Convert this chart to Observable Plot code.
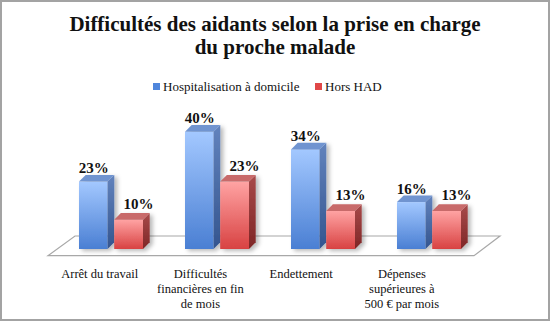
<!DOCTYPE html>
<html>
<head>
<meta charset="utf-8">
<script src="https://cdn.jsdelivr.net/npm/d3@7"></script>
<script src="https://cdn.jsdelivr.net/npm/@observablehq/plot@0.6"></script>
<style>
  body { margin: 0; background: #fff; }
  #wrap { position: relative; width: 550px; height: 321px; overflow: hidden; font-family: "Liberation Serif", "Times New Roman", serif; color: #111; }
  #border { position: absolute; left: 0; top: 0; width: 550px; height: 321px; box-sizing: border-box; border: 2px solid #a3a3a3; pointer-events: none; z-index: 5; }
  #title { position: absolute; left: 0; top: 13px; width: 550px; text-align: center; font-weight: bold; font-size: 21px; line-height: 23px; }
  #legend { position: absolute; left: 0; top: 79px; width: 550px; font-size: 13px; line-height: 15px; }
  .lg { position: absolute; top: 0; white-space: nowrap; font-family: "Liberation Serif", "Times New Roman", serif; }
  .sw { display: inline-block; width: 7px; height: 7px; margin-right: 3px; vertical-align: 1px; }
  #chart { position: absolute; left: 0; top: 100px; }
</style>
</head>
<body>
<div id="wrap">
  <div id="title">Difficultés des aidants selon la prise en charge<br>du proche malade</div>
  <div id="legend"></div>
  <div id="chart"></div>
  <div id="border"></div>
</div>
<script>
const categories = ["Arrêt du travail", "Difficultés\nfinancières en fin\nde mois", "Endettement", "Dépenses\nsupérieures à\n500 € par mois"];
const seriesNames = ["Hospitalisation à domicile", "Hors HAD"];
const hadValues = [23, 40, 34, 16];
const horsValues = [10, 23, 13, 13];
const valueLabels = (v) => v + "%";

const rows = categories.flatMap((c, i) => [
  {cat: c, series: seriesNames[0], value: hadValues[i]},
  {cat: c, series: seriesNames[1], value: horsValues[i]}
]);

const colors = {
  [seriesNames[0]]: {front: "url(#gBlue)", side: "url(#gBlueSide)", top: "#7094d0", sw: "#4f86dc"},
  [seriesNames[1]]: {front: "url(#gRed)", side: "url(#gRedSide)", top: "#c86a6a", sw: "#e04848"}
};

// legend
const legend = document.getElementById("legend");
const lgX = [153, 315];
seriesNames.forEach((s, i) => {
  const d = document.createElement("div");
  d.className = "lg";
  d.style.left = lgX[i] + "px";
  d.innerHTML = `<span class="sw" style="background:${colors[s].sw}"></span>${s}`;
  legend.appendChild(d);
});

const D = 6.7; // 3D depth

function bar3d(series) {
  return (index, scales, values, dims, ctx, next) => {
    const g = next(index, scales, values, dims, ctx);
    const ns = "http://www.w3.org/2000/svg";
    g.setAttribute("filter", "url(#shadow)");
    for (const r of Array.from(g.querySelectorAll("rect"))) {
      const x = +r.getAttribute("x"), y = +r.getAttribute("y");
      const w = +r.getAttribute("width"), h = +r.getAttribute("height");
      const side = document.createElementNS(ns, "polygon");
      side.setAttribute("points", `${x+w},${y} ${x+w+D},${y-D} ${x+w+D},${y+h-D} ${x+w},${y+h}`);
      side.setAttribute("fill", colors[series].side);
      const top = document.createElementNS(ns, "polygon");
      top.setAttribute("points", `${x},${y} ${x+D},${y-D} ${x+w+D},${y-D} ${x+w},${y}`);
      top.setAttribute("fill", colors[series].top);
      g.appendChild(side);
      g.appendChild(top);
    }
    return g;
  };
}

const defsMark = () => {
  const g = d3.create("svg:g");
  const defs = g.append("defs");
  const grad = (id, c1, c2) => {
    const lg = defs.append("linearGradient").attr("id", id)
      .attr("x1", 0).attr("y1", 0).attr("x2", 0).attr("y2", 1);
    lg.append("stop").attr("offset", "0%").attr("stop-color", c1);
    lg.append("stop").attr("offset", "100%").attr("stop-color", c2);
  };
  grad("gBlue", "#a3c8ff", "#4a7fd3");
  grad("gBlueSide", "#6283bd", "#34558f");
  grad("gRed", "#ffa3a3", "#d84242");
  grad("gRedSide", "#a84a4a", "#7e2626");
  const f = defs.append("filter").attr("id", "shadow").attr("x", "-20%").attr("y", "-20%").attr("width", "160%").attr("height", "140%");
  f.append("feDropShadow").attr("dx", 3).attr("dy", 2).attr("stdDeviation", 2).attr("flood-color", "#000").attr("flood-opacity", 0.28);
  return g.node();
};

const floorMark = (index, scales, values, dims) => {
  const y0 = scales.y(0);
  const L = dims.marginLeft, R = dims.width - dims.marginRight;
  const pts = [[L + 39.5, y0 - 13], [R - 3.2, y0 - 13], [R - 29.2, y0 + 6.7], [L + 12.5, y0 + 6.7]];
  return d3.create("svg:polygon")
    .attr("points", pts.map(p => p.join(",")).join(" "))
    .attr("fill", "#fff").attr("stroke", "#a8a8a8").attr("stroke-width", 1.2).node();
};

const perspective = (index, scales, values, dims, ctx, next) =>
  next(index, scales, {...values, x: Float64Array.from(values.x, v => 0.95 * v - 7.8)}, dims, ctx);

const had = rows.filter(d => d.series === seriesNames[0]);
const hors = rows.filter(d => d.series === seriesNames[1]);

const plot = Plot.plot({
  width: 550,
  height: 221,
  marginLeft: 35.5,
  marginRight: 46.8,
  marginTop: 17.15,
  marginBottom: 72,
  x: {domain: categories, padding: 0.4, axis: null},
  y: {domain: [0, 45], axis: null},
  style: {fontFamily: "'Liberation Serif', 'Times New Roman', serif", color: "#111", background: "transparent", overflow: "visible"},
  marks: [
    defsMark,
    floorMark,
    Plot.barY(had, {x: "cat", y: "value", fill: colors[seriesNames[0]].front, insetRight: 35.4, render: bar3d(seriesNames[0])}),
    Plot.barY(hors, {x: "cat", y: "value", fill: colors[seriesNames[1]].front, insetLeft: 35.2, render: bar3d(seriesNames[1])}),
    Plot.text(had, {x: "cat", y: "value", text: d => valueLabels(d.value), dx: -17.7, dy: -9, lineAnchor: "bottom", fontSize: 15, fontWeight: "bold", fill: "#111"}),
    Plot.text(hors, {x: "cat", y: "value", text: d => valueLabels(d.value), dx: 27, dy: -11, lineAnchor: "bottom", fontSize: 15, fontWeight: "bold", fill: "#111"}),
    Plot.text(categories, {x: d => d, text: d => d, frameAnchor: "bottom", lineAnchor: "top", dy: 18, fontSize: 12.5, lineHeight: 1.2, fill: "#111", render: perspective})
  ]
});
document.getElementById("chart").appendChild(plot);
</script>
</body>
</html>
